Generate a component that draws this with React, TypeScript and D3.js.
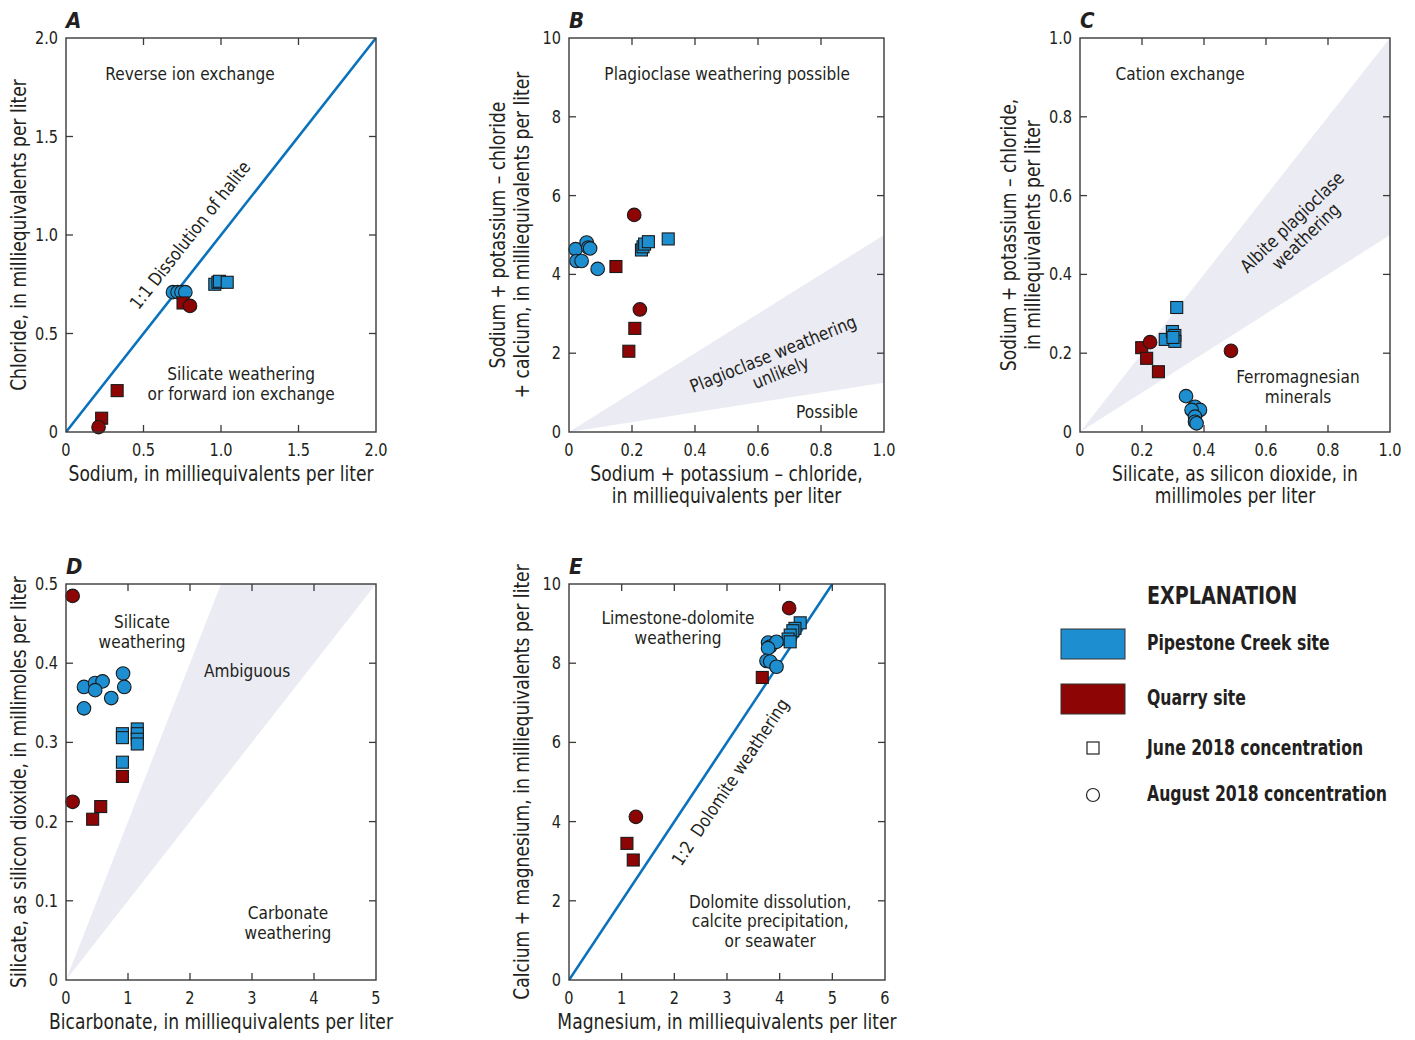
import React from "react";
import * as d3 from "d3";

type Pt = [number, number];

// ---------- Panel A: sodium vs chloride ----------
const aPipeJune: Pt[] = [[0.96, 0.75], [0.98, 0.76], [0.99, 0.765], [1.04, 0.76]];
const aPipeAug: Pt[] = [[0.69, 0.71], [0.72, 0.71], [0.745, 0.71], [0.77, 0.71]];
const aQuarryJune: Pt[] = [[0.755, 0.655], [0.33, 0.21], [0.23, 0.07]];
const aQuarryAug: Pt[] = [[0.80, 0.64], [0.21, 0.025]];

// ---------- Panel B ----------
const bPipeJune: Pt[] = [[0.23, 4.62], [0.235, 4.7], [0.24, 4.77], [0.252, 4.83], [0.315, 4.9]];
const bPipeAug: Pt[] = [[0.021, 4.64], [0.056, 4.81], [0.061, 4.68], [0.067, 4.66], [0.024, 4.34], [0.04, 4.34], [0.091, 4.14]];
const bQuarryJune: Pt[] = [[0.149, 4.2], [0.209, 2.63], [0.19, 2.05]];
const bQuarryAug: Pt[] = [[0.207, 5.51], [0.225, 3.11]];

// ---------- Panel C ----------
const cPipeJune: Pt[] = [[0.312, 0.316], [0.275, 0.235], [0.298, 0.255], [0.306, 0.245], [0.306, 0.23], [0.3, 0.24]];
const cPipeAug: Pt[] = [[0.342, 0.091], [0.371, 0.064], [0.387, 0.056], [0.36, 0.056], [0.371, 0.039], [0.371, 0.026], [0.376, 0.022]];
const cQuarryJune: Pt[] = [[0.199, 0.214], [0.215, 0.187], [0.253, 0.153]];
const cQuarryAug: Pt[] = [[0.226, 0.228], [0.487, 0.206]];

// ---------- Panel D ----------
const dPipeJune: Pt[] = [[0.91, 0.311], [0.91, 0.306], [1.15, 0.317], [1.15, 0.311], [1.15, 0.304], [1.15, 0.298], [0.91, 0.275]];
const dPipeAug: Pt[] = [[0.29, 0.37], [0.47, 0.375], [0.59, 0.377], [0.92, 0.387], [0.94, 0.37], [0.47, 0.366], [0.73, 0.356], [0.29, 0.343]];
const dQuarryJune: Pt[] = [[0.91, 0.257], [0.56, 0.219], [0.43, 0.203]];
const dQuarryAug: Pt[] = [[0.107, 0.485], [0.107, 0.225]];

// ---------- Panel E ----------
const ePipeJune: Pt[] = [[4.39, 9.02], [4.29, 8.88], [4.25, 8.82], [4.2, 8.71], [4.16, 8.61], [4.2, 8.54]];
const ePipeAug: Pt[] = [[3.78, 8.52], [3.82, 8.42], [3.94, 8.54], [3.78, 8.38], [3.75, 8.06], [3.82, 8.04], [3.94, 7.91]];
const eQuarryJune: Pt[] = [[3.67, 7.64], [1.1, 3.45], [1.22, 3.03]];
const eQuarryAug: Pt[] = [[4.18, 9.39], [1.27, 4.12]];

// tick values and labels
const ticksA = [0, 0.5, 1, 1.5, 2];
const ticksALabels = ["0", "0.5", "1.0", "1.5", "2.0"];
const ticksUnit = [0, 0.2, 0.4, 0.6, 0.8, 1];
const ticksUnitLabels = ["0", "0.2", "0.4", "0.6", "0.8", "1.0"];
const ticksTen = [0, 2, 4, 6, 8, 10];
const ticksTenLabels = ["0", "2", "4", "6", "8", "10"];
const ticksFive = [0, 1, 2, 3, 4, 5];
const ticksFiveLabels = ["0", "1", "2", "3", "4", "5"];
const ticksHalf = [0, 0.1, 0.2, 0.3, 0.4, 0.5];
const ticksHalfLabels = ["0", "0.1", "0.2", "0.3", "0.4", "0.5"];
const ticksSix = [0, 1, 2, 3, 4, 5, 6];
const ticksSixLabels = ["0", "1", "2", "3", "4", "5", "6"];

// reference regions / lines
const shadeB: Pt[] = [[0, 0], [1, 5], [1, 1.25]];
const shadeC: Pt[] = [[0, 0], [1, 1], [1, 0.5]];
const shadeD: Pt[] = [[0, 0], [2.5, 0.5], [5, 0.5]];
const lineA: Pt[] = [[0, 0], [2, 2]];
const lineE: Pt[] = [[0, 0], [5, 10]];

const BLUE = "#1d8fd1";
const RED = "#8e0505";
const LINE = "#0a72bb";
const SHADE = "#ebebf4";
const TXT = "#231f20";
const FONT = "'DejaVu Sans Condensed', 'Liberation Sans Narrow', sans-serif";

// horizontal compression to mimic a condensed face
const SX_TITLE = 0.93;
const SX_ANN = 0.95;
const SX_TICK = 0.95;
const SX_LEG = 0.85;

type Ann = { x: number; y: number; lines: string[]; rot?: number | "line" };

type PanelProps = {
  letter: string;
  box: { l: number; r: number; t: number; b: number };
  xDom: [number, number];
  yDom: [number, number];
  xTicks: number[];
  xLabels: string[];
  yTicks: number[];
  yLabels: string[];
  xTitle: string[];
  yTitle: string[];
  shade?: Pt[];
  line?: Pt[];
  anns: Ann[];
  pipeJune: Pt[];
  pipeAug: Pt[];
  quarryJune: Pt[];
  quarryAug: Pt[];
};

function Panel(p: PanelProps) {
  const { l, r, t, b } = p.box;
  const x = d3.scaleLinear().domain(p.xDom).range([l, r]);
  const y = d3.scaleLinear().domain(p.yDom).range([b, t]);
  const lineGen = d3.line<Pt>().x((d) => x(d[0])).y((d) => y(d[1]));
  const tick = 7;
  const clipId = "clip" + p.letter;
  const sq = 12;
  const rad = 6.8;
  const innerX = p.xTicks.filter((v) => v !== p.xDom[0] && v !== p.xDom[1]);
  const innerY = p.yTicks.filter((v) => v !== p.yDom[0] && v !== p.yDom[1]);
  const lineAngle = p.line
    ? (Math.atan2(y(p.line[1][1]) - y(p.line[0][1]), x(p.line[1][0]) - x(p.line[0][0])) * 180) / Math.PI
    : 0;
  const yMid = (t + b) / 2;
  const xMid = (l + r) / 2;
  return (
    <g>
      <defs>
        <clipPath id={clipId}>
          <rect x={l} y={t} width={r - l} height={b - t} />
        </clipPath>
      </defs>
      <g clipPath={`url(#${clipId})`}>
        {p.shade && <path d={lineGen(p.shade) + "Z"} fill={SHADE} stroke="none" />}
        {p.line && <path d={lineGen(p.line) || ""} stroke={LINE} strokeWidth={2.6} fill="none" />}
      </g>
      {/* annotations */}
      {p.anns.map((a, i) => {
        const ax = x(a.x);
        const ay = y(a.y);
        const rot = a.rot === "line" ? lineAngle : a.rot || 0;
        return (
          <text
            key={i}
            transform={`translate(${ax},${ay}) rotate(${rot}) scale(${SX_ANN},1)`}
            textAnchor="middle"
            fontSize={18}
            fill={TXT}
          >
            {a.lines.map((s, j) => (
              <tspan key={j} x={0} dy={j === 0 ? "0.35em" : "1.1em"} xmlSpace="preserve">
                {s}
              </tspan>
            ))}
          </text>
        );
      })}
      {/* points */}
      {p.pipeJune.map((d, i) => (
        <rect key={"pj" + i} x={x(d[0]) - sq / 2} y={y(d[1]) - sq / 2} width={sq} height={sq} fill={BLUE} stroke="#1a1a1a" strokeWidth={1.1} />
      ))}
      {p.pipeAug.map((d, i) => (
        <circle key={"pa" + i} cx={x(d[0])} cy={y(d[1])} r={rad} fill={BLUE} stroke="#1a1a1a" strokeWidth={1.1} />
      ))}
      {p.quarryJune.map((d, i) => (
        <rect key={"qj" + i} x={x(d[0]) - sq / 2} y={y(d[1]) - sq / 2} width={sq} height={sq} fill={RED} stroke="#1a1a1a" strokeWidth={1.1} />
      ))}
      {p.quarryAug.map((d, i) => (
        <circle key={"qa" + i} cx={x(d[0])} cy={y(d[1])} r={rad} fill={RED} stroke="#1a1a1a" strokeWidth={1.1} />
      ))}
      {/* frame */}
      <rect x={l} y={t} width={r - l} height={b - t} fill="none" stroke="#3a3a3a" strokeWidth={1.4} />
      {innerX.map((v, i) => (
        <g key={"xt" + i} stroke="#3a3a3a" strokeWidth={1.3}>
          <line x1={x(v)} x2={x(v)} y1={b} y2={b - tick} />
          <line x1={x(v)} x2={x(v)} y1={t} y2={t + tick} />
        </g>
      ))}
      {innerY.map((v, i) => (
        <g key={"yt" + i} stroke="#3a3a3a" strokeWidth={1.3}>
          <line x1={l} x2={l + tick} y1={y(v)} y2={y(v)} />
          <line x1={r} x2={r - tick} y1={y(v)} y2={y(v)} />
        </g>
      ))}
      {/* tick labels */}
      {p.xTicks.map((v, i) => (
        <text key={"xl" + i} transform={`translate(${x(v)},${b + 24}) scale(${SX_TICK},1)`} textAnchor="middle" fontSize={17} fill={TXT}>
          {p.xLabels[i]}
        </text>
      ))}
      {p.yTicks.map((v, i) => (
        <text key={"yl" + i} transform={`translate(${l - 8},${y(v) + 6}) scale(${SX_TICK},1)`} textAnchor="end" fontSize={17} fill={TXT}>
          {p.yLabels[i]}
        </text>
      ))}
      {/* titles */}
      {p.xTitle.map((s, i) => (
        <text key={"xtt" + i} transform={`translate(${xMid},${b + 49 + i * 22}) scale(${SX_TITLE},1)`} textAnchor="middle" fontSize={20.5} fill={TXT}>
          {s}
        </text>
      ))}
      {p.yTitle.map((s, i) => {
        const n = p.yTitle.length;
        const cx = l - 40 - (n - 1 - i) * 24;
        return (
          <text key={"ytt" + i} transform={`translate(${cx},${yMid}) rotate(-90) scale(${SX_TITLE},1)`} textAnchor="middle" fontSize={20.5} fill={TXT}>
            {s}
          </text>
        );
      })}
      <text x={l} y={t - 10} fontSize={22} fontWeight="bold" fontStyle="italic" fill={TXT}>
        {p.letter}
      </text>
    </g>
  );
}

function LegText({ x, y, size, children }: { x: number; y: number; size: number; children: React.ReactNode }) {
  return (
    <text transform={`translate(${x},${y}) scale(${SX_LEG},1)`} fontSize={size} fontWeight="bold" fill={TXT}>
      {children}
    </text>
  );
}

export default function App() {
  return (
    <svg
      width={1415}
      height={1040}
      style={{ position: "absolute", left: 0, top: 0, background: "#fff" }}
      fontFamily={FONT}
    >
      <rect x={0} y={0} width={1415} height={1040} fill="#fff" />
      <Panel
        letter="A"
        box={{ l: 66, r: 376, t: 38, b: 432 }}
        xDom={[0, 2]}
        yDom={[0, 2]}
        xTicks={ticksA}
        xLabels={ticksALabels}
        yTicks={ticksA}
        yLabels={ticksALabels}
        xTitle={["Sodium, in milliequivalents per liter"]}
        yTitle={["Chloride, in milliequivalents per liter"]}
        line={lineA}
        anns={[
          { x: 0.8, y: 1.817, lines: ["Reverse ion exchange"] },
          { x: 0.8, y: 1.0, lines: ["1:1 Dissolution of halite"], rot: "line" },
          { x: 1.13, y: 0.294, lines: ["Silicate weathering", "or forward ion exchange"] },
        ]}
        pipeJune={aPipeJune}
        pipeAug={aPipeAug}
        quarryJune={aQuarryJune}
        quarryAug={aQuarryAug}
      />
      <Panel
        letter="B"
        box={{ l: 569, r: 884, t: 38, b: 432 }}
        xDom={[0, 1]}
        yDom={[0, 10]}
        xTicks={ticksUnit}
        xLabels={ticksUnitLabels}
        yTicks={ticksTen}
        yLabels={ticksTenLabels}
        xTitle={["Sodium + potassium \u2013 chloride,", "in milliequivalents per liter"]}
        yTitle={["Sodium + potassium \u2013 chloride", "+ calcium, in milliequivalents per liter"]}
        shade={shadeB}
        anns={[
          { x: 0.502, y: 9.09, lines: ["Plagioclase weathering possible"] },
          { x: 0.648, y: 1.98, lines: ["Plagioclase weathering", "unlikely"], rot: -22 },
          { x: 0.819, y: 0.508, lines: ["Possible"] },
        ]}
        pipeJune={bPipeJune}
        pipeAug={bPipeAug}
        quarryJune={bQuarryJune}
        quarryAug={bQuarryAug}
      />
      <Panel
        letter="C"
        box={{ l: 1080, r: 1390, t: 38, b: 432 }}
        xDom={[0, 1]}
        yDom={[0, 1]}
        xTicks={ticksUnit}
        xLabels={ticksUnitLabels}
        yTicks={ticksUnit}
        yLabels={ticksUnitLabels}
        xTitle={["Silicate, as silicon dioxide, in", "millimoles per liter"]}
        yTitle={["Sodium + potassium \u2013 chloride,", "in milliequivalents per liter"]}
        shade={shadeC}
        anns={[
          { x: 0.323, y: 0.909, lines: ["Cation exchange"] },
          { x: 0.684, y: 0.533, lines: ["Albite plagioclase", "weathering"], rot: -44 },
          { x: 0.703, y: 0.14, lines: ["Ferromagnesian", "minerals"] },
        ]}
        pipeJune={cPipeJune}
        pipeAug={cPipeAug}
        quarryJune={cQuarryJune}
        quarryAug={cQuarryAug}
      />
      <Panel
        letter="D"
        box={{ l: 66, r: 376, t: 584, b: 980 }}
        xDom={[0, 5]}
        yDom={[0, 0.5]}
        xTicks={ticksFive}
        xLabels={ticksFiveLabels}
        yTicks={ticksHalf}
        yLabels={ticksHalfLabels}
        xTitle={["Bicarbonate, in milliequivalents per liter"]}
        yTitle={["Silicate, as silicon dioxide, in millimoles per liter"]}
        shade={shadeD}
        anns={[
          { x: 1.226, y: 0.452, lines: ["Silicate", "weathering"] },
          { x: 2.92, y: 0.39, lines: ["Ambiguous"] },
          { x: 3.58, y: 0.0846, lines: ["Carbonate", "weathering"] },
        ]}
        pipeJune={dPipeJune}
        pipeAug={dPipeAug}
        quarryJune={dQuarryJune}
        quarryAug={dQuarryAug}
      />
      <Panel
        letter="E"
        box={{ l: 569, r: 885, t: 584, b: 980 }}
        xDom={[0, 6]}
        yDom={[0, 10]}
        xTicks={ticksSix}
        xLabels={ticksSixLabels}
        yTicks={ticksTen}
        yLabels={ticksTenLabels}
        xTitle={["Magnesium, in milliequivalents per liter"]}
        yTitle={["Calcium + magnesium, in milliequivalents per liter"]}
        line={lineE}
        anns={[
          { x: 2.07, y: 9.14, lines: ["Limestone-dolomite", "weathering"] },
          { x: 3.06, y: 5.0, lines: ["1:2  Dolomite weathering"], rot: "line" },
          { x: 3.82, y: 1.99, lines: ["Dolomite dissolution,", "calcite precipitation,", "or seawater"] },
        ]}
        pipeJune={ePipeJune}
        pipeAug={ePipeAug}
        quarryJune={eQuarryJune}
        quarryAug={eQuarryAug}
      />
      {/* Legend */}
      <g>
        <LegText x={1147} y={604} size={25}>EXPLANATION</LegText>
        <rect x={1061} y={629} width={64} height={30} fill={BLUE} stroke="#333" strokeWidth={1} />
        <LegText x={1147} y={650} size={20.5}>Pipestone Creek site</LegText>
        <rect x={1061} y={684} width={64} height={30} fill={RED} stroke="#333" strokeWidth={1} />
        <LegText x={1147} y={705} size={20.5}>Quarry site</LegText>
        <rect x={1087} y={742} width={12} height={12} fill="none" stroke="#222" strokeWidth={1.2} />
        <LegText x={1147} y={755} size={20.5}>June 2018 concentration</LegText>
        <circle cx={1093} cy={795} r={6.5} fill="none" stroke="#222" strokeWidth={1.2} />
        <LegText x={1147} y={801} size={20.5}>August 2018 concentration</LegText>
      </g>
    </svg>
  );
}
